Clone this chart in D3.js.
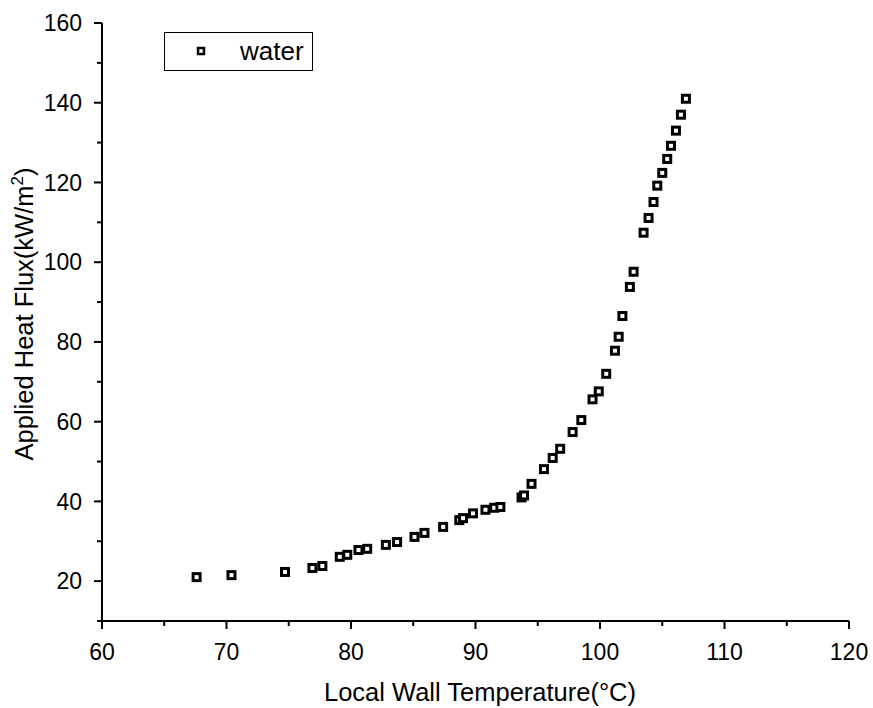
<!DOCTYPE html>
<html><head><meta charset="utf-8">
<script src="https://cdn.jsdelivr.net/npm/d3@7"></script>
<style>body{margin:0;background:#fff}svg{display:block}text{font-family:Arial,"Liberation Sans",sans-serif}</style>
</head><body><svg id="c" width="873" height="708"></svg>
<script>
const temperature = [67.6,70.4,74.7,76.9,77.7,79.1,79.7,80.6,81.3,82.8,83.7,85.1,85.9,87.4,88.7,89.0,89.8,90.8,91.5,92.0,93.7,93.9,94.5,95.5,96.2,96.8,97.8,98.5,99.4,99.9,100.5,101.2,101.5,101.8,102.4,102.7,103.5,103.9,104.3,104.6,105.0,105.4,105.7,106.1,106.5,106.9];
const heatFlux =    [21.0,21.5,22.3,23.3,23.8,26.1,26.6,27.8,28.1,29.1,29.8,31.1,32.1,33.6,35.3,35.8,37.0,37.9,38.4,38.6,41.0,41.5,44.4,48.1,50.9,53.2,57.4,60.4,65.6,67.6,72.0,77.8,81.3,86.5,93.8,97.6,107.4,111.1,115.1,119.2,122.4,125.9,129.2,133.0,137.0,141.0];
const xTicks = [60,70,80,90,100,110,120];
const yTicks = [20,40,60,80,100,120,140,160];
const seriesName = "water";

const svg = d3.select("#c");
const x = d3.scaleLinear().domain([60,120]).range([102,849]);
const y = d3.scaleLinear().domain([10,160]).range([621,23]);

const xMinor = d3.range(65,120,10);
const yMinor = d3.range(10,161,10).filter(v=>!yTicks.includes(v));

const xAxis = svg.append("g").attr("transform","translate(0,621)");
xAxis.append("line").attr("x1",x(60)).attr("x2",x(120)).attr("stroke","#000").attr("stroke-width",2);
xAxis.selectAll(".maj").data(xTicks).join("line").attr("x1",d=>x(d)).attr("x2",d=>x(d)).attr("y1",0).attr("y2",8).attr("stroke","#000").attr("stroke-width",2);
xAxis.selectAll(".min").data(xMinor).join("line").attr("class","min").attr("x1",d=>x(d)).attr("x2",d=>x(d)).attr("y1",0).attr("y2",5).attr("stroke","#000").attr("stroke-width",2);
xAxis.selectAll("text").data(xTicks).join("text").attr("x",d=>x(d)).attr("y",39).attr("text-anchor","middle").attr("font-size",23).text(d=>d);

const yAxis = svg.append("g").attr("transform","translate(102,0)");
yAxis.append("line").attr("y1",y(10)).attr("y2",y(160)).attr("stroke","#000").attr("stroke-width",2);
yAxis.selectAll(".maj").data(yTicks).join("line").attr("y1",d=>y(d)).attr("y2",d=>y(d)).attr("x1",0).attr("x2",-8).attr("stroke","#000").attr("stroke-width",2);
yAxis.selectAll(".min").data(yMinor).join("line").attr("class","min").attr("y1",d=>y(d)).attr("y2",d=>y(d)).attr("x1",0).attr("x2",-5).attr("stroke","#000").attr("stroke-width",2);
yAxis.selectAll("text").data(yTicks).join("text").attr("x",-20).attr("y",d=>y(d)).attr("dy","0.36em").attr("text-anchor","end").attr("font-size",23).text(d=>d);

svg.append("text").attr("x",480).attr("y",701).attr("text-anchor","middle").attr("font-size",25.5).text("Local Wall Temperature(\u00B0C)");
const yt = svg.append("text").attr("transform","translate(33,314) rotate(-90)").attr("text-anchor","middle").attr("font-size",25.5);
yt.append("tspan").text("Applied Heat Flux(kW/m");
yt.append("tspan").attr("font-size",17).attr("dy",-10).text("2");
yt.append("tspan").attr("dy",10).text(")");

const pts = temperature.map((t,i)=>({t,h:heatFlux[i]}));
svg.append("g").selectAll("rect").data(pts).join("rect")
  .attr("x",d=>x(d.t)-3.5).attr("y",d=>y(d.h)-3.5).attr("width",7).attr("height",7)
  .attr("fill","#fff").attr("stroke","#000").attr("stroke-width",3);

const lg = svg.append("g");
lg.append("rect").attr("x",164.5).attr("y",32.5).attr("width",148).attr("height",38).attr("fill","#fff").attr("stroke","#000").attr("stroke-width",1);
lg.append("rect").attr("x",198).attr("y",48).attr("width",6).attr("height",6).attr("fill","#fff").attr("stroke","#000").attr("stroke-width",2.5);
lg.append("text").attr("x",240).attr("y",60).attr("font-size",26).text(seriesName);
</script></body></html>
